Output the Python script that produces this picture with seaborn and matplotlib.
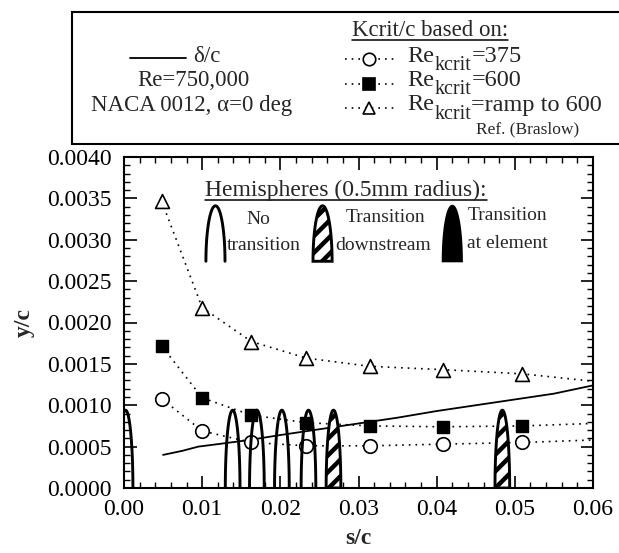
import numpy as np
import matplotlib
matplotlib.use("Agg")
import matplotlib.pyplot as plt
import matplotlib.ticker as mticker
from matplotlib.patches import Rectangle
from matplotlib.lines import Line2D
import seaborn as sns

# Roughness-element heights from three critical-Reynolds-number criteria
s_meas = [0.0048, 0.0100, 0.0163, 0.0233, 0.0315, 0.0408, 0.0509]
k_375 = [0.00108, 0.00069, 0.00055, 0.00051, 0.00051, 0.00053, 0.00055]
k_600 = [0.00172, 0.00109, 0.00088, 0.00079, 0.00075, 0.00074, 0.00075]
k_ramp = [0.00347, 0.00218, 0.00177, 0.00157, 0.00147, 0.00143, 0.00138]
# each curve is carried on to the end of the plotted range
s_end = 0.06
k_375_end = 0.00058
k_600_end = 0.00078
k_ramp_end = 0.00129

# Boundary-layer thickness
delta_s = [0.005, 0.0075, 0.0095, 0.012, 0.016, 0.020, 0.025, 0.030,
           0.035, 0.040, 0.045, 0.050, 0.055, 0.060]
delta_y = [0.00040, 0.00045, 0.00050, 0.00053, 0.00058, 0.00064, 0.00071,
           0.00078, 0.00085, 0.00093, 0.00100, 0.00107, 0.00114, 0.00124]

# Hemispherical elements (0.5 mm radius) placed on the surface
hemi_radius = 0.00094
hemi_no_transition = [0.0002, 0.0139, 0.0170, 0.0202, 0.0236]
hemi_downstream = [0.0268, 0.0484]

x_ticks = [0.00, 0.01, 0.02, 0.03, 0.04, 0.05, 0.06]
y_ticks = [0.0000, 0.0005, 0.0010, 0.0015, 0.0020, 0.0025, 0.0030, 0.0035, 0.0040]

key_values = ["=375", "=600", "=ramp to 600"]

sns.set_theme(style="ticks")
plt.rcParams["font.family"] = ["Liberation Serif", "DejaVu Serif"]
plt.rcParams["hatch.linewidth"] = 3.2
plt.rcParams["hatch.color"] = "black"

W, H = 619, 553
fig = plt.figure(figsize=(W / 100, H / 100), dpi=100)
fig.patch.set_facecolor("white")


def P(x, y):
    """pixel position (from top-left) -> figure fraction"""
    return x / W, 1 - y / H


ax = fig.add_axes([124 / W, 1 - 488 / H, (593 - 124) / W, (488 - 157) / H])
ax.set_facecolor("white")

dot = (0, (1, 3))
lw_dot = 1.2

# dotted criterion curves
for ys, yend in [(k_375, k_375_end), (k_600, k_600_end), (k_ramp, k_ramp_end)]:
    sns.lineplot(x=s_meas + [s_end], y=ys + [yend], ax=ax, color="black",
                 linewidth=lw_dot, linestyle=dot, sort=False, zorder=3)

sns.scatterplot(x=s_meas, y=k_375, ax=ax, marker="o", s=95, color="white",
                edgecolor="black", linewidth=1.2, zorder=5)
sns.scatterplot(x=s_meas, y=k_600, ax=ax, marker="s", s=85, color="black",
                edgecolor="black", linewidth=1.0, zorder=5)
sns.scatterplot(x=s_meas, y=k_ramp, ax=ax, marker="^", s=100, color="white",
                edgecolor="black", linewidth=1.2, zorder=5)

# boundary-layer thickness
sns.lineplot(x=delta_s, y=delta_y, ax=ax, color="black", linewidth=1.3,
             sort=False, zorder=4)

theta = np.linspace(0, np.pi, 80)


def arch(cx, base, rx, ry):
    return cx + rx * np.cos(theta), base + ry * np.sin(theta)


for c in hemi_no_transition:
    xs, ys = arch(c, 0.0, hemi_radius, hemi_radius)
    ax.plot(xs, ys, color="black", linewidth=2.1, zorder=6)
for c in hemi_downstream:
    xs, ys = arch(c, 0.0, hemi_radius, hemi_radius)
    ax.fill(xs, ys, facecolor="white", edgecolor="black", hatch="//",
            linewidth=2.1, zorder=6)

# key for the element symbols
icon_base, icon_rx, icon_ry = 0.00274, 0.00122, 0.00067
xs, ys = arch(0.0117, icon_base, icon_rx, icon_ry)
ax.plot(xs, ys, color="black", linewidth=2.1, zorder=6)
xs, ys = arch(0.0254, icon_base, icon_rx, icon_ry)
ax.fill(xs, ys, facecolor="white", edgecolor="black", hatch="//",
        linewidth=2.1, zorder=6)
xs, ys = arch(0.0420, icon_base, icon_rx, icon_ry)
ax.fill(xs, ys, facecolor="black", edgecolor="black", linewidth=1.5, zorder=6)

ax.set_xlim(0, 0.06)
ax.set_ylim(0, 0.004)
ax.set_xticks(x_ticks)
ax.set_yticks(y_ticks)
ax.xaxis.set_major_formatter(mticker.FormatStrFormatter("%.2f"))
ax.yaxis.set_major_formatter(mticker.FormatStrFormatter("%.4f"))
ax.xaxis.set_minor_locator(mticker.MultipleLocator(0.002))
ax.yaxis.set_minor_locator(mticker.MultipleLocator(0.0001))
ax.tick_params(which="both", direction="in", top=True, right=True,
               colors="black", labelsize=17)
ax.tick_params(which="major", length=9, width=1.2)
ax.tick_params(axis="y", which="major", pad=9)
ax.tick_params(axis="x", which="major", pad=8)
ax.tick_params(which="minor", length=4, width=1.0)
for sp in ax.spines.values():
    sp.set_linewidth(1.5)
    sp.set_color("black")
    sp.set_visible(True)

ax.set_xlabel("s/c", fontsize=17, fontweight="bold", labelpad=6)
ax.set_ylabel("y/c", fontsize=17, fontweight="bold", labelpad=9)

# ---- text inside the axes: element key
hdr = fig.text(*P(346, 190), "Hemispheres (0.5mm radius):", fontsize=17,
               ha="center", va="center")
fig.text(*P(258, 219), "No", fontsize=14, ha="center", va="center")
fig.text(*P(264, 246), "transition", fontsize=14, ha="center", va="center")
fig.text(*P(386, 218), "Transition", fontsize=14, ha="center", va="center")
fig.text(*P(383, 246), "downstream", fontsize=14, ha="center", va="center")
fig.text(*P(507, 215), "Transition", fontsize=14, ha="center", va="center")
fig.text(*P(507, 243), "at element", fontsize=14, ha="center", va="center")

# ---- header box above the axes
fig.add_artist(Rectangle(P(72, 144), (640 - 72) / W, (144 - 12) / H,
                         transform=fig.transFigure, facecolor="white",
                         edgecolor="black", linewidth=1.5))

row = [56, 81, 105]
fig.add_artist(Line2D([130 / W, 186 / W], [P(0, row[0] + 2)[1]] * 2,
                      color="black", linewidth=1.3))
fig.text(*P(193, row[0]), "δ/c", fontsize=16.5, ha="left", va="center")
fig.text(*P(193, row[1]), "Re=750,000", fontsize=16.5, ha="center",
         va="center")
fig.text(*P(192, row[2]), "NACA 0012, α=0 deg", fontsize=16.5, ha="center",
         va="center")

kc = fig.text(*P(430, 30), "Kcrit/c based on:", fontsize=16.5, ha="center",
              va="center")

key_styles = [dict(marker="o", markerfacecolor="white"),
              dict(marker="s", markerfacecolor="black"),
              dict(marker="^", markerfacecolor="white")]
renderer = fig.canvas.get_renderer()
for yy, st, val in zip(row, key_styles, key_values):
    yf = P(0, yy + 3)[1]
    fig.add_artist(Line2D([345 / W, 398 / W], [yf, yf], color="black",
                          linewidth=lw_dot, linestyle=dot))
    fig.add_artist(Line2D([369 / W], [yf], color="black", linestyle="none",
                          markeredgecolor="black", markersize=9,
                          markeredgewidth=1.2, **st))
    t_re = fig.text(*P(407, yy), "Re", fontsize=17.5, ha="left", va="center")
    x1 = t_re.get_window_extent(renderer).x1
    t_sub = fig.text(x1 / W + 0.001, P(0, yy + 9)[1], "kcrit", fontsize=14.5,
                     ha="left", va="center")
    x2 = t_sub.get_window_extent(renderer).x1
    fig.text(x2 / W, P(0, yy)[1], val, fontsize=17.5, ha="left", va="center")
fig.text(*P(528, 129), "Ref. (Braslow)", fontsize=12.5, ha="center",
         va="center")

# underline the two headings
fig.canvas.draw()
for t in (hdr, kc):
    bb = t.get_window_extent()
    yb = bb.y0 + 1
    fig.add_artist(Line2D([bb.x0 / W, bb.x1 / W], [yb / H, yb / H],
                          color="black", linewidth=1.1))

fig.savefig("out.png", dpi=100)
